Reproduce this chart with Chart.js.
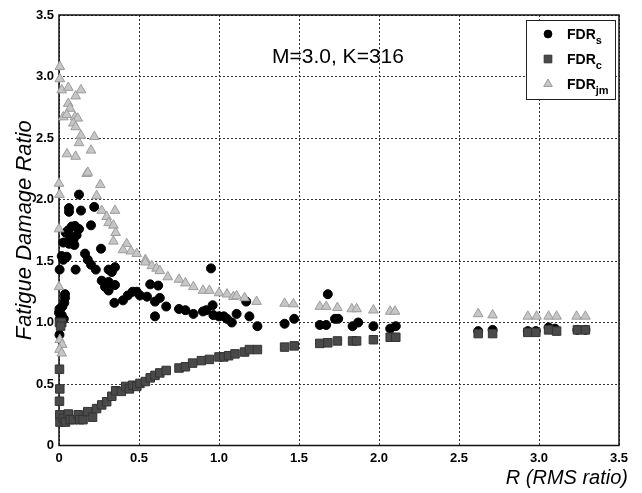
<!DOCTYPE html>
<html>
<head>
<meta charset="utf-8">
<script src="https://cdn.jsdelivr.net/npm/chart.js@4.4.1/dist/chart.umd.min.js"></script>
<style>
  html, body { margin: 0; padding: 0; background: #fff; }
  canvas { display: block; }
</style>
</head>
<body>
<canvas id="c" width="642" height="493"></canvas>
<script>
// Tick labels for both axes (0 .. 3.5 in steps of 0.5)
const xTickLabels = ['0', '0.5', '1.0', '1.5', '2.0', '2.5', '3.0', '3.5'];
const yTickLabels = ['0', '0.5', '1.0', '1.5', '2.0', '2.5', '3.0', '3.5'];

// FDR_s : [R, ratio]
const fdrS = [
  [0.004,1.43],[0.017,1.54],[0.027,1.51],[0.048,1.535],[0.027,1.65],[0.042,1.73],[0.058,1.75],
  [0.0625,1.64],[0.069,1.70],[0.079,1.78],[0.09,1.67],[0.096,1.63],[0.10,1.785],[0.11,1.71],
  [0.125,1.76],[0.0625,1.93],[0.0625,1.90],[0.1375,1.91],[0.125,2.04],[0.22,1.94],[0.20,1.79],
  [0.2625,1.60],[0.1625,1.56],[0.104,1.43],[0.18,1.51],[0.20,1.47],[0.23,1.43],[0.31,1.43],
  [0.35,1.45],[0.33,1.41],[0.267,1.34],[0.31,1.33],[0.35,1.305],[0.2875,1.29],[0.31,1.26],
  [0.346,1.16],[0.40,1.18],[0.43,1.22],[0.46,1.25],[0.486,1.25],[0.506,1.22],[0.55,1.21],
  [0.57,1.31],[0.60,1.17],[0.62,1.30],[0.63,1.20],[0.60,1.05],[0.67,1.13],[0.75,1.11],
  [0.79,1.10],[0.84,1.07],[0.90,1.09],[0.92,1.10],[0.95,1.44],[0.96,1.14],[0.965,1.06],
  [1.00,1.05],[1.03,1.05],[1.05,1.03],[1.08,1.00],[1.11,1.07],[1.17,1.17],[1.19,1.05],
  [1.24,0.97],[1.41,0.99],[1.47,1.03],[1.63,0.98],[1.67,0.98],[1.68,1.23],[1.725,1.03],
  [1.745,1.03],[1.835,0.97],[1.87,1.00],[1.965,0.97],[2.07,0.95],[2.105,0.97],
  [2.62,0.93],[2.71,0.94],[2.93,0.93],[2.98,0.93],[3.06,0.96],[3.10,0.95],[3.24,0.94],[3.29,0.94],
  [0.0375,1.23],[0.0375,1.20],[0.033,1.16],[0.021,1.13],[0.003,1.11],[0.0,1.08],[0.017,1.06],
  [0.005,1.03],[0.03,1.03],[0.003,0.90]
];

// FDR_c : [R, ratio]
const fdrC = [
  [0.003,1.00],[0.017,1.00],[0.01,0.97],[0.003,0.62],[0.005,0.46],[0.003,0.36],[0.005,0.25],
  [0.006,0.19],[0.027,0.22],[0.04,0.19],[0.058,0.256],[0.07,0.21],[0.09,0.21],[0.12,0.25],
  [0.13,0.21],[0.15,0.21],[0.18,0.275],[0.21,0.23],[0.235,0.30],[0.267,0.33],[0.298,0.356],
  [0.33,0.40],[0.354,0.445],[0.39,0.44],[0.417,0.48],[0.44,0.46],[0.46,0.49],[0.486,0.48],
  [0.506,0.505],[0.54,0.52],[0.57,0.55],[0.60,0.57],[0.63,0.59],[0.67,0.61],[0.75,0.63],
  [0.79,0.64],[0.835,0.67],[0.89,0.69],[0.94,0.70],[1.00,0.72],[1.03,0.72],[1.06,0.73],
  [1.10,0.745],[1.16,0.76],[1.19,0.78],[1.24,0.78],[1.41,0.80],[1.47,0.81],[1.63,0.83],
  [1.68,0.835],[1.74,0.85],[1.835,0.85],[1.86,0.85],[1.965,0.86],[2.07,0.88],[2.105,0.88],
  [2.62,0.91],[2.71,0.91],[2.93,0.92],[2.98,0.92],[3.06,0.94],[3.11,0.93],[3.24,0.94],[3.29,0.94]
];

// FDR_jm : [R, ratio]
const fdrJm = [
  [0.005,3.08],[0.005,2.98],[0.017,2.89],[0.058,2.91],[0.137,2.89],[0.104,2.84],[0.058,2.78],
  [0.069,2.74],[0.027,2.67],[0.048,2.69],[0.10,2.67],[0.117,2.66],[0.09,2.62],[0.104,2.59],
  [0.137,2.52],[0.221,2.51],[0.125,2.46],[0.05,2.37],[0.104,2.35],[0.20,2.40],[0.173,2.21],
  [0.18,2.22],[0.0,2.13],[0.258,2.12],[0.003,2.04],[0.235,2.03],[0.267,1.91],[0.35,1.91],
  [0.298,1.86],[0.31,1.81],[0.34,1.79],[0.354,1.73],[0.34,1.66],[0.423,1.64],[0.40,1.59],
  [0.45,1.58],[0.0,1.76],[0.0,1.29],[0.486,1.56],[0.54,1.51],[0.54,1.49],[0.58,1.46],
  [0.61,1.44],[0.63,1.42],[0.68,1.37],[0.75,1.35],[0.79,1.32],[0.84,1.29],[0.90,1.26],
  [0.94,1.26],[1.00,1.24],[1.05,1.23],[1.09,1.21],[1.11,1.215],[1.16,1.20],[1.235,1.17],
  [1.41,1.155],[1.465,1.15],[1.63,1.13],[1.67,1.13],[1.74,1.12],[1.83,1.11],[1.86,1.11],
  [1.965,1.10],[2.07,1.09],[2.10,1.09],[2.62,1.07],[2.71,1.06],[2.93,1.05],[2.985,1.05],
  [3.06,1.05],[3.11,1.05],[3.235,1.05],[3.29,1.05],
  [0.005,0.86],[0.02,0.82],[0.003,0.78],[0.017,0.75]
];

const FONT = '"Liberation Sans", Arial, Helvetica, sans-serif';
const toXY = arr => arr.map(([x, y]) => ({ x, y }));

const styleS  = { pointStyle: 'circle',   radius: 4.5, fill: '#000000', stroke: '#000000' };
const styleC  = { pointStyle: 'rect',     radius: 6.0, fill: '#4a4a4a', stroke: '#333333' };
const styleJm = { pointStyle: 'triangle', radius: 5.6, fill: '#c6c6c6', stroke: '#9c9c9c' };

// Frame around the plot area
const frame = {
  id: 'frame',
  beforeDatasetsDraw(chart) {
    const { ctx, chartArea: a } = chart;
    ctx.save();
    ctx.strokeStyle = '#111';
    ctx.lineWidth = 1.5;
    ctx.strokeRect(a.left, a.top, a.right - a.left, a.bottom - a.top);
    ctx.restore();
  }
};

// Legend box with subscripted labels, annotation and x-axis title
const extras = {
  id: 'extras',
  afterDraw(chart) {
    const ctx = chart.ctx;
    ctx.save();
    // legend box
    ctx.fillStyle = '#fff';
    ctx.fillRect(526, 20, 89, 79);
    ctx.strokeStyle = '#222';
    ctx.lineWidth = 1;
    ctx.strokeRect(526.5, 20.5, 89, 79);
    const items = [
      { sub: 's',  st: styleS,  y: 34 },
      { sub: 'c',  st: styleC,  y: 59 },
      { sub: 'jm', st: styleJm, y: 84 }
    ];
    items.forEach(it => {
      ctx.fillStyle = it.st.fill;
      ctx.strokeStyle = it.st.stroke;
      ctx.lineWidth = 1;
      Chart.helpers.drawPoint(ctx, { pointStyle: it.st.pointStyle, radius: it.st.radius - 0.6, rotation: 0, borderWidth: 1 }, 548, it.y);
      ctx.fillStyle = '#000';
      ctx.textBaseline = 'alphabetic';
      ctx.textAlign = 'left';
      ctx.font = 'bold 14px ' + FONT;
      ctx.fillText('FDR', 567, it.y + 5);
      const w = ctx.measureText('FDR').width;
      ctx.font = 'bold 11px ' + FONT;
      ctx.fillText(it.sub, 567 + w, it.y + 10);
    });
    // annotation
    ctx.fillStyle = '#000';
    ctx.font = '21px ' + FONT;
    ctx.textAlign = 'left';
    ctx.textBaseline = 'middle';
    ctx.fillText('M=3.0, K=316', 272, 57);
    // x-axis title
    ctx.font = 'italic 20px ' + FONT;
    ctx.textAlign = 'right';
    ctx.textBaseline = 'alphabetic';
    ctx.fillText('R (RMS ratio)', 628, 484);
    ctx.restore();
  }
};

const mk = (label, data, st) => ({
  label,
  data: toXY(data),
  pointStyle: st.pointStyle,
  pointRadius: st.radius,
  pointBackgroundColor: st.fill,
  pointBorderColor: st.stroke,
  pointBorderWidth: 1,
  showLine: false,
  clip: false
});

new Chart(document.getElementById('c'), {
  type: 'scatter',
  data: {
    datasets: [
      mk('FDR_jm', fdrJm, styleJm),
      mk('FDR_c', fdrC, styleC),
      mk('FDR_s', fdrS, styleS)
    ]
  },
  options: {
    responsive: false,
    animation: false,
    devicePixelRatio: 1,
    layout: { padding: { left: 0, top: 15, right: 23, bottom: 0 } },
    plugins: { legend: { display: false }, tooltip: { enabled: false } },
    scales: {
      x: {
        type: 'linear', min: 0, max: 3.5,
        afterFit(s) { s.height = 47.5; },
        ticks: {
          stepSize: 0.5, padding: 5, color: '#000', maxRotation: 0,
          font: { family: FONT, size: 13, weight: 'bold' },
          callback: (v, i) => xTickLabels[i]
        },
        grid: { color: '#333', lineWidth: 1, drawTicks: false },
        border: { display: false, dash: [2, 2] }
      },
      y: {
        type: 'linear', min: 0, max: 3.5,
        afterFit(s) { s.width = 59; },
        ticks: {
          stepSize: 0.5, padding: 5, color: '#000',
          font: { family: FONT, size: 13, weight: 'bold' },
          callback: (v, i) => yTickLabels[i]
        },
        grid: { color: '#333', lineWidth: 1, drawTicks: false },
        border: { display: false, dash: [2, 2] },
        title: {
          display: true, text: 'Fatigue Damage Ratio', color: '#000',
          font: { family: FONT, size: 22, style: 'italic', weight: 'normal' },
          padding: { top: 12, bottom: 0 }
        }
      }
    }
  },
  plugins: [frame, extras]
});
</script>
</body>
</html>
